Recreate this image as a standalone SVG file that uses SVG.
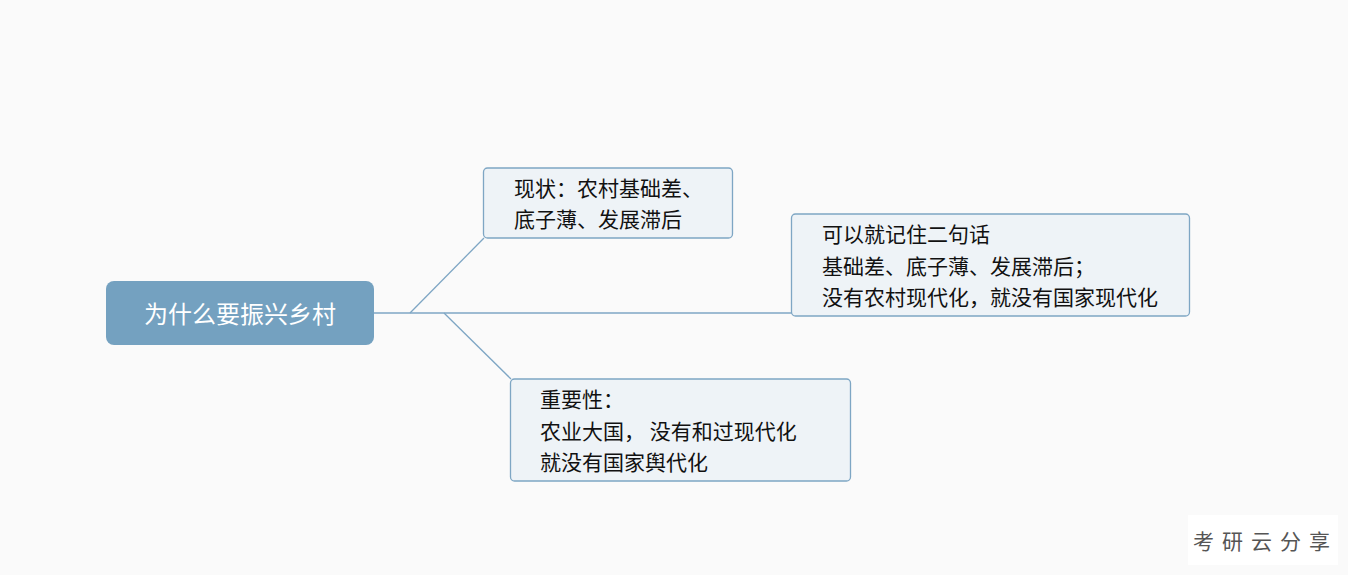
<svg xmlns="http://www.w3.org/2000/svg" width="1348" height="575" viewBox="0 0 1348 575">
<style>
.bg{fill:#fafafa}
.conn{stroke:#7ea6c4;stroke-width:1.3;fill:none}
.box{fill:#eef3f7;stroke:#7ea6c4;stroke-width:1.3}
.t{font-family:"Noto Sans CJK SC","Liberation Sans",sans-serif;font-size:21px;fill:#111}
.root{fill:#74a1c0}
.rt{font-family:"Noto Sans CJK SC","Liberation Sans",sans-serif;font-size:24px;fill:#ffffff;text-anchor:middle}
.wm{font-family:"Noto Sans CJK SC",sans-serif;font-size:21px;fill:#555;letter-spacing:8px}
</style>
<rect class="bg" x="0" y="0" width="1348" height="575"/>
<g id="connectors">
<path class="conn" d="M374 313 H792"/>
<path class="conn" d="M410 313 L484 238"/>
<path class="conn" d="M444 313 L511 379"/>
</g>
<g id="root">
<rect class="root" x="106" y="281" width="268" height="64" rx="8"/>
<text class="rt" x="240" y="323">为什么要振兴乡村</text>
</g>
<g id="node1">
<rect class="box" x="483.5" y="168" width="249" height="70" rx="4"/>
<text class="t" x="514" y="196">现状：农村基础差、</text>
<text class="t" x="514" y="227">底子薄、发展滞后</text>
</g>
<g id="node2">
<rect class="box" x="791.5" y="214" width="398" height="102" rx="4"/>
<text class="t" x="822" y="242">可以就记住二句话</text>
<text class="t" x="822" y="274">基础差、底子薄、发展滞后；</text>
<text class="t" x="822" y="305">没有农村现代化，就没有国家现代化</text>
</g>
<g id="node3">
<rect class="box" x="510.5" y="379" width="340" height="102" rx="4"/>
<text class="t" x="540" y="407">重要性：</text>
<text class="t" x="540" y="439">农业大国， 没有和过现代化</text>
<text class="t" x="540" y="470">就没有国家舆代化</text>
</g>
<g id="watermark">
<rect x="1188" y="515" width="150" height="50" fill="#ffffff"/>
<text class="wm" x="1193" y="549">考研云分享</text>
</g>
</svg>
